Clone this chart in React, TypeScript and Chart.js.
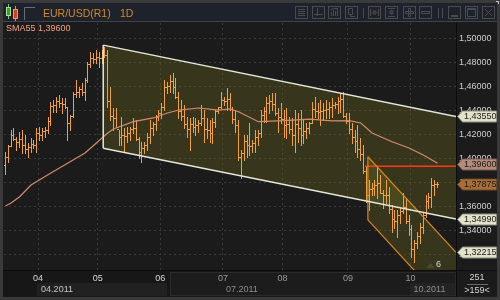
import React, { useEffect, useRef } from "react";
import { Chart, registerables } from "chart.js";

Chart.register(...registerables);

const FONT = '"Liberation Sans", Arial, Helvetica, sans-serif';

// ---------- categories / ticks ----------
const symbol = "EUR/USD(R1)";
const timeframe = "1D";
const monthLabels = ["04", "05", "06", "07", "08", "09", "10"];
const monthStartBars = [12, 33, 55, 77, 98, 121, 143];
const quarterLabels = ["04.2011", "07.2011", "10.2011"];
const quarterStartBars = [12, 77, 143];
const priceTicks = [1.32, 1.34, 1.36, 1.38, 1.4, 1.42, 1.44, 1.46, 1.48, 1.5];
const visibleBars = 159;
const totalBars = 251;
const waveLabel = "6";
const smaPeriod = 55;
const smaLast = 1.396;

// ---------- OHLC series (daily bars) ----------
const opens = [
  1.395, 1.402, 1.4105, 1.42, 1.417, 1.4145, 1.4165, 1.412, 1.408, 1.41,
  1.4125, 1.412, 1.422, 1.42, 1.423, 1.4245, 1.432, 1.444, 1.445, 1.448,
  1.447, 1.446, 1.443, 1.43, 1.436, 1.454, 1.456, 1.458, 1.456, 1.466,
  1.479, 1.484, 1.483, 1.485, 1.484, 1.488, 1.487, 1.448, 1.436, 1.434,
  1.425, 1.418, 1.42, 1.419, 1.422, 1.425, 1.426, 1.417, 1.406, 1.409,
  1.412, 1.418, 1.426, 1.429, 1.435, 1.438, 1.443, 1.46, 1.461, 1.465,
  1.46, 1.452, 1.44, 1.436, 1.429, 1.425, 1.429, 1.427, 1.428, 1.43,
  1.434, 1.425, 1.424, 1.422, 1.431, 1.44, 1.443, 1.449, 1.448, 1.45,
  1.442, 1.433, 1.428, 1.402, 1.405, 1.415, 1.412, 1.411, 1.413, 1.418,
  1.422, 1.437, 1.44, 1.447, 1.448, 1.446, 1.438, 1.435, 1.433, 1.428,
  1.429, 1.425, 1.42, 1.429, 1.426, 1.42, 1.423, 1.426, 1.43, 1.442,
  1.44, 1.439, 1.44, 1.441, 1.442, 1.443, 1.445, 1.446, 1.448, 1.45,
  1.436, 1.432, 1.425, 1.418, 1.415, 1.408, 1.404, 1.39, 1.37, 1.375,
  1.376, 1.378, 1.38, 1.372, 1.37, 1.37, 1.358, 1.35, 1.348, 1.353,
  1.357, 1.36, 1.348, 1.342, 1.325, 1.33, 1.336, 1.343, 1.353, 1.365,
  1.368, 1.378, 1.379,
];
const highs = [
  1.4061, 1.4117, 1.4242, 1.4256, 1.4186, 1.4228, 1.4242, 1.42, 1.4131, 1.4172,
  1.4158, 1.4256, 1.4269, 1.4256, 1.4269, 1.4353, 1.4478, 1.4492, 1.4519, 1.4533,
  1.4506, 1.4506, 1.4436, 1.4367, 1.4561, 1.4658, 1.4603, 1.4631, 1.4672, 1.4811,
  1.4894, 1.4881, 1.4908, 1.4894, 1.4908, 1.4936, 1.4908, 1.4603, 1.4422, 1.4422,
  1.4242, 1.4353, 1.4256, 1.4269, 1.4269, 1.4339, 1.4325, 1.4186, 1.4144, 1.4144,
  1.4214, 1.4325, 1.4311, 1.4367, 1.4408, 1.4464, 1.4658, 1.4644, 1.47, 1.4714,
  1.4672, 1.4561, 1.4492, 1.445, 1.4353, 1.4339, 1.4353, 1.4339, 1.4325, 1.445,
  1.4408, 1.4339, 1.4325, 1.4339, 1.4408, 1.4436, 1.4561, 1.4519, 1.4589, 1.4547,
  1.4436, 1.4408, 1.4325, 1.4075, 1.42, 1.42, 1.4297, 1.4158, 1.4242, 1.4242,
  1.4408, 1.4436, 1.4519, 1.4533, 1.4547, 1.4547, 1.4422, 1.4464, 1.4408, 1.4422,
  1.4353, 1.4339, 1.4408, 1.4381, 1.4408, 1.4325, 1.4297, 1.4311, 1.4478, 1.452,
  1.4464, 1.4492, 1.4464, 1.4492, 1.4478, 1.4506, 1.4478, 1.452, 1.4547, 1.4561,
  1.4381, 1.4381, 1.4297, 1.4242, 1.4283, 1.4172, 1.4117, 1.3936, 1.3825, 1.3797,
  1.3825, 1.3936, 1.3867, 1.3742, 1.3825, 1.3769, 1.3617, 1.3575, 1.3575, 1.3589,
  1.3714, 1.3672, 1.3533, 1.345, 1.3325, 1.3394, 1.3464, 1.3547, 1.37, 1.3714,
  1.3839, 1.3825, 1.3811,
];
const lows = [
  1.3875, 1.3978, 1.411, 1.4158, 1.4075, 1.4103, 1.4047, 1.4047, 1.4019, 1.4061,
  1.4089, 1.4061, 1.4158, 1.4158, 1.4186, 1.4214, 1.4283, 1.4394, 1.4394, 1.4436,
  1.4381, 1.4422, 1.4158, 1.4242, 1.4353, 1.4519, 1.4519, 1.4533, 1.4492, 1.4644,
  1.4769, 1.4797, 1.4797, 1.4769, 1.4797, 1.4853, 1.4436, 1.4325, 1.4242, 1.4269,
  1.4117, 1.4117, 1.4061, 1.4144, 1.4158, 1.4214, 1.4158, 1.4006, 1.3978, 1.4047,
  1.4075, 1.4131, 1.42, 1.4242, 1.4325, 1.4339, 1.4408, 1.4547, 1.4561, 1.4547,
  1.4506, 1.4339, 1.4325, 1.4256, 1.4186, 1.4075, 1.4228, 1.42, 1.4228, 1.4283,
  1.4144, 1.4172, 1.4144, 1.4131, 1.4269, 1.4381, 1.4422, 1.445, 1.4408, 1.4408,
  1.4297, 1.4228, 1.3992, 1.3839, 1.3992, 1.4019, 1.4033, 1.4061, 1.4061, 1.4117,
  1.4186, 1.4311, 1.4311, 1.4381, 1.4408, 1.4367, 1.4228, 1.4297, 1.4186, 1.4172,
  1.4214, 1.4117, 1.4061, 1.4144, 1.4117, 1.413, 1.4172, 1.4214, 1.43, 1.4353,
  1.4339, 1.4283, 1.4325, 1.4339, 1.4339, 1.4353, 1.4422, 1.4381, 1.4394, 1.4353,
  1.4297, 1.4214, 1.413, 1.4061, 1.4019, 1.3992, 1.388, 1.3644, 1.3575, 1.37,
  1.37, 1.3672, 1.3714, 1.3589, 1.3631, 1.3547, 1.3394, 1.3422, 1.3353, 1.3464,
  1.3547, 1.3464, 1.3367, 1.3186, 1.3144, 1.3256, 1.3297, 1.3381, 1.3519, 1.3589,
  1.3603, 1.37, 1.3769,
];
const closes = [
  1.402, 1.4105, 1.42, 1.417, 1.4145, 1.4165, 1.412, 1.408, 1.41, 1.4125,
  1.412, 1.422, 1.42, 1.423, 1.4245, 1.432, 1.444, 1.445, 1.448, 1.447,
  1.446, 1.443, 1.43, 1.436, 1.454, 1.456, 1.458, 1.456, 1.466, 1.479,
  1.484, 1.483, 1.485, 1.484, 1.488, 1.487, 1.448, 1.436, 1.434, 1.425,
  1.418, 1.42, 1.419, 1.422, 1.425, 1.426, 1.417, 1.406, 1.409, 1.412,
  1.418, 1.426, 1.429, 1.435, 1.438, 1.443, 1.46, 1.461, 1.465, 1.46,
  1.452, 1.44, 1.436, 1.429, 1.425, 1.429, 1.427, 1.428, 1.43, 1.434,
  1.425, 1.424, 1.422, 1.431, 1.44, 1.443, 1.449, 1.448, 1.45, 1.442,
  1.433, 1.428, 1.402, 1.405, 1.415, 1.412, 1.411, 1.413, 1.418, 1.422,
  1.437, 1.44, 1.447, 1.448, 1.446, 1.438, 1.435, 1.433, 1.428, 1.429,
  1.425, 1.42, 1.429, 1.426, 1.42, 1.423, 1.426, 1.43, 1.442, 1.44,
  1.439, 1.44, 1.441, 1.442, 1.443, 1.445, 1.446, 1.448, 1.45, 1.436,
  1.432, 1.425, 1.418, 1.415, 1.408, 1.404, 1.39, 1.37, 1.375, 1.376,
  1.378, 1.38, 1.372, 1.37, 1.37, 1.358, 1.35, 1.348, 1.353, 1.357,
  1.36, 1.348, 1.342, 1.325, 1.33, 1.336, 1.343, 1.353, 1.365, 1.368,
  1.378, 1.379, 1.37875,
];

// ---------- SMA55 (read points) ----------
const smaBars = [0, 2, 5, 9, 16, 22, 28, 32, 36, 38, 45, 52, 57, 61, 68, 75, 79, 82, 89, 98, 107, 115, 121, 125, 129, 136, 142, 147, 152];
const smaValues = [1.3608, 1.3633, 1.3686, 1.3783, 1.3883, 1.3967, 1.405, 1.4133, 1.4217, 1.425, 1.4311, 1.4342, 1.4383, 1.4408, 1.4425, 1.4408, 1.4417, 1.4394, 1.4311, 1.4319, 1.4333, 1.4317, 1.4319, 1.43, 1.4217, 1.4144, 1.4092, 1.4033, 1.3964];

// ---------- drawn objects ----------
const bigChannelBars = [34.4, 158.5];
const bigChannelUpper = [1.4949, 1.4355];
const bigChannelLower = [1.4089, 1.3499];
const smallChannelBars = [127.5, 158.5];
const smallChannelUpper = [1.4019, 1.32215];
const smallChannelLower = [1.3492, 1.2694];
const levelBars = [126.5, 158.5];
const levelValue = 1.394;
const tagValues = [1.4355, 1.396, 1.37875, 1.3499, 1.32215];
const tagKinds = ["line", "sma", "last", "line", "line"];

const fmt = (v: number) => v.toFixed(5).replace(".", ",");
const pts = (xs: number[], ys: number[]) => xs.map((x, k) => ({ x, y: ys[k] }));

const FILL = "rgba(110,105,35,0.35)";

function drawIcon(ctx: CanvasRenderingContext2D, x: number, kind: number) {
  const y = 6;
  ctx.strokeStyle = "#4b4b4b";
  ctx.lineWidth = 1;
  ctx.strokeRect(x + 0.5, y + 0.5, 12, 12);
  ctx.beginPath();
  switch (kind) {
    case 0:
      for (let k = 0; k < 4; k++) {
        ctx.moveTo(x + 3, y + 3.5 + k * 2);
        ctx.lineTo(x + 10, y + 3.5 + k * 2);
      }
      break;
    case 1:
      ctx.moveTo(x + 5.5, y + 2); ctx.lineTo(x + 5.5, y + 10);
      ctx.moveTo(x + 2, y + 8.5); ctx.lineTo(x + 11, y + 8.5);
      break;
    case 2:
      ctx.moveTo(x + 3.5, y + 10); ctx.lineTo(x + 3.5, y + 6);
      ctx.moveTo(x + 5.5, y + 10); ctx.lineTo(x + 5.5, y + 4);
      ctx.moveTo(x + 7.5, y + 10); ctx.lineTo(x + 7.5, y + 5);
      ctx.moveTo(x + 9.5, y + 10); ctx.lineTo(x + 9.5, y + 3);
      ctx.moveTo(x + 2, y + 4); ctx.lineTo(x + 6, y + 2.5); ctx.lineTo(x + 10, y + 2.5);
      break;
    case 3:
      ctx.rect(x + 3.5, y + 2.5, 4, 6);
      ctx.moveTo(x + 5.5, y + 8.5); ctx.lineTo(x + 5.5, y + 10.5); ctx.lineTo(x + 10, y + 10.5);
      break;
    case 4:
      ctx.moveTo(x + 2.5, y + 3); ctx.lineTo(x + 2.5, y + 10);
      ctx.moveTo(x + 10.5, y + 3); ctx.lineTo(x + 10.5, y + 10);
      ctx.moveTo(x + 4, y + 6.5); ctx.lineTo(x + 6, y + 4.5); ctx.lineTo(x + 6, y + 8.5); ctx.closePath();
      ctx.moveTo(x + 9, y + 6.5); ctx.lineTo(x + 7, y + 4.5); ctx.lineTo(x + 7, y + 8.5); ctx.closePath();
      break;
    case 5:
      ctx.moveTo(x + 3, y + 2.5); ctx.lineTo(x + 10, y + 2.5);
      ctx.moveTo(x + 3, y + 10.5); ctx.lineTo(x + 10, y + 10.5);
      ctx.moveTo(x + 6.5, y + 4); ctx.lineTo(x + 4.5, y + 6); ctx.lineTo(x + 8.5, y + 6); ctx.closePath();
      ctx.moveTo(x + 6.5, y + 9); ctx.lineTo(x + 4.5, y + 7); ctx.lineTo(x + 8.5, y + 7); ctx.closePath();
      break;
    case 6:
      ctx.rect(x + 5.5, y + 2.5, 2, 8);
      ctx.rect(x + 2.5, y + 5.5, 8, 2);
      break;
    case 7:
      ctx.rect(x + 2.5, y + 5.5, 8, 2);
      break;
    case 8:
      ctx.moveTo(x + 3, y + 9.5); ctx.lineTo(x + 10, y + 9.5);
      ctx.moveTo(x + 3, y + 10.5); ctx.lineTo(x + 10, y + 10.5);
      break;
    case 9:
      ctx.rect(x + 2.5, y + 2.5, 8, 8);
      ctx.moveTo(x + 2.5, y + 3.5); ctx.lineTo(x + 10.5, y + 3.5);
      break;
    case 10:
      ctx.moveTo(x + 3, y + 3); ctx.lineTo(x + 10, y + 10);
      ctx.moveTo(x + 10, y + 3); ctx.lineTo(x + 3, y + 10);
      break;
  }
  ctx.stroke();
}

const chromePlugin = {
  id: "chrome",
  beforeDraw(chart: any) {
    const { ctx } = chart;
    const xs = chart.scales.x;
    ctx.save();
    // outer frame
    ctx.fillStyle = "#3a3a3a";
    ctx.fillRect(0, 0, 500, 300);
    // title bar
    ctx.fillStyle = "#1d222d";
    ctx.fillRect(3, 3, 494, 19);
    ctx.fillStyle = "#3f434b";
    ctx.fillRect(3, 21, 494, 1);
    // plot + axis bg
    ctx.fillStyle = "#1b1b1b";
    ctx.fillRect(3, 22, 494, 275);
    // bottom axis panel
    ctx.fillStyle = "#171717";
    ctx.fillRect(3, 271, 453, 26);
    const q0 = xs.getPixelForValue(quarterStartBars[0] - 0.5);
    ctx.fillStyle = "#212121";
    ctx.fillRect(Math.round(q0) - 1, 283, 168 - Math.round(q0), 13);
    ctx.fillStyle = "#1c1c1c";
    ctx.fillRect(170, 272, 286, 24);
    ctx.strokeStyle = "#2a2a2a";
    ctx.strokeRect(170.5, 272.5, 285, 23);
    const q2 = xs.getPixelForValue(quarterStartBars[2] - 0.5);
    ctx.fillStyle = "#232323";
    ctx.fillRect(Math.round(q2) - 1, 283, 456 - Math.round(q2), 12);
    // separators
    ctx.fillStyle = "#0d0d0d";
    ctx.fillRect(456, 22, 1, 275);
    ctx.fillRect(3, 270, 494, 1);
    ctx.restore();
  },
  afterDraw(chart: any) {
    const { ctx } = chart;
    const xs = chart.scales.x;
    const ys = chart.scales.y;
    ctx.save();
    // candle icon
    ctx.fillStyle = "#7ad06a";
    ctx.fillRect(8, 4, 1, 15);
    ctx.fillStyle = "#3f9a3a";
    ctx.fillRect(6, 7, 5, 9);
    ctx.strokeStyle = "#a8e09a";
    ctx.strokeRect(6.5, 7.5, 4, 8);
    ctx.fillStyle = "#f08a3a";
    ctx.fillRect(15, 6, 1, 15);
    ctx.fillStyle = "#d9401a";
    ctx.fillRect(13, 9, 5, 10);
    ctx.strokeStyle = "#f49a50";
    ctx.strokeRect(13.5, 9.5, 4, 9);
    // bracket
    ctx.strokeStyle = "#6c6c6c";
    ctx.beginPath();
    ctx.moveTo(24.5, 20); ctx.lineTo(24.5, 7.5); ctx.lineTo(35, 7.5);
    ctx.stroke();
    // title
    ctx.font = `10.5px ${FONT}`;
    ctx.textBaseline = "middle";
    ctx.textAlign = "left";
    ctx.fillStyle = "#d68a1e";
    ctx.fillText(symbol, 43, 14);
    ctx.fillText(timeframe, 120, 14);
    // icons
    const iconX = [295, 312, 328, 345, 368, 385, 403, 419, 448, 465, 482];
    iconX.forEach((x, k) => drawIcon(ctx, x, k));
    ctx.fillStyle = "#4b4b4b";
    ctx.fillRect(363, 8, 1, 10);
    ctx.fillRect(438, 8, 1, 10);
    ctx.fillRect(442, 8, 1, 10);
    ctx.strokeStyle = "#cfcfcf";
    ctx.beginPath();
    ctx.moveTo(496, 1.5); ctx.lineTo(498.5, 1.5); ctx.lineTo(498.5, 4);
    ctx.stroke();
    // indicator caption
    ctx.font = `9px ${FONT}`;
    ctx.fillStyle = "#f3a088";
    ctx.fillText(`SMA${smaPeriod} ${fmt(smaLast)}`, 6, 29);
    // wave label
    const wx = xs.getPixelForValue(visibleBars - 7);
    ctx.fillStyle = "#4a4a32";
    ctx.beginPath();
    ctx.moveTo(wx - 11, 268); ctx.lineTo(wx - 7, 263); ctx.lineTo(wx - 3, 268); ctx.closePath();
    ctx.fill();
    ctx.fillStyle = "#d8d8d8";
    ctx.textAlign = "center";
    ctx.fillText(waveLabel, wx + 1, 265);
    // quarter labels
    ctx.textAlign = "left";
    quarterLabels.forEach((lab, k) => {
      const x = xs.getPixelForValue(quarterStartBars[k] - 0.5) + 3;
      ctx.fillStyle = k === 0 ? "#c4c4c4" : "#8e8e8e";
      ctx.fillText(lab, x, 290);
    });
    // tags
    tagValues.forEach((v, k) => {
      const y = Math.round(ys.getPixelForValue(v)) + 0.5;
      const kind = tagKinds[k];
      const fill = kind === "sma" ? "#b48a78" : kind === "last" ? "#a86e36" : "#e2e1ca";
      const stroke = kind === "sma" ? "#7a5a4c" : kind === "last" ? "#6e4a24" : "#8f8f80";
      ctx.beginPath();
      ctx.moveTo(457.5, y);
      ctx.lineTo(462.5, y - 5.5);
      ctx.lineTo(496.5, y - 5.5);
      ctx.lineTo(496.5, y + 5.5);
      ctx.lineTo(462.5, y + 5.5);
      ctx.closePath();
      ctx.fillStyle = fill;
      ctx.fill();
      ctx.strokeStyle = stroke;
      ctx.stroke();
      ctx.fillStyle = "#1b1b1b";
      ctx.textAlign = "left";
      ctx.fillText(fmt(v), 464, y + 0.5);
    });
    // corner info
    ctx.textAlign = "center";
    ctx.fillStyle = "#d4d4d4";
    ctx.fillText(String(totalBars), 477, 277.5);
    ctx.fillStyle = "#6a6a6a";
    ctx.fillRect(467, 284, 21, 1);
    ctx.fillStyle = "#d4d4d4";
    ctx.fillText(`>${visibleBars}<`, 477, 290.5);
    ctx.restore();
  },
};

const ohlcPlugin = {
  id: "ohlc",
  afterDatasetDraw(chart: any, args: any) {
    if (args.index !== 0) return;
    const { ctx, chartArea } = chart;
    const xs = chart.scales.x;
    const ys = chart.scales.y;
    ctx.save();
    ctx.beginPath();
    ctx.rect(chartArea.left, chartArea.top, chartArea.right - chartArea.left, chartArea.bottom - chartArea.top);
    ctx.clip();
    ctx.fillStyle = "#f3a03c";
    for (let i = 0; i < highs.length; i++) {
      const px = Math.floor(xs.getPixelForValue(i));
      const yh = Math.round(ys.getPixelForValue(highs[i]));
      const yl = Math.round(ys.getPixelForValue(lows[i]));
      const yo = Math.round(ys.getPixelForValue(opens[i]));
      const yc = Math.round(ys.getPixelForValue(closes[i]));
      ctx.fillRect(px, yh, 1, Math.max(1, yl - yh + 1));
      ctx.fillRect(px - 1, yo, 1, 1);
      ctx.fillRect(px + 1, yc, 1, 1);
    }
    ctx.restore();
  },
};

export default function App() {
  const ref = useRef<HTMLCanvasElement>(null);
  useEffect(() => {
    document.body.style.margin = "0";
    Chart.defaults.font.family = FONT;
    const lineDs = (label: string, data: any[], color: string, width: number, order: number, extra: any = {}) => ({
      label,
      data,
      borderColor: color,
      borderWidth: width,
      pointRadius: 0,
      tension: 0,
      fill: false,
      order,
      ...extra,
    });
    const chart = new Chart(ref.current as HTMLCanvasElement, {
      type: "line",
      data: {
        datasets: [
          lineDs("bigFillTop", pts(bigChannelBars, bigChannelUpper), "rgba(0,0,0,0)", 0, 10, { fill: "+1", backgroundColor: FILL }),
          lineDs("bigFillBottom", pts(bigChannelBars, bigChannelLower), "rgba(0,0,0,0)", 0, 10),
          lineDs("smallFillTop", pts(smallChannelBars, smallChannelUpper), "rgba(0,0,0,0)", 0, 10, { fill: "+1", backgroundColor: FILL }),
          lineDs("smallFillBottom", pts(smallChannelBars, smallChannelLower), "rgba(0,0,0,0)", 0, 10),
          lineDs("SMA55", pts(smaBars, smaValues), "#d4896a", 1.2, 5),
          lineDs("level", pts(levelBars, [levelValue, levelValue]), "#ff3a12", 1.5, 4),
          lineDs("bigUpper", pts(bigChannelBars, bigChannelUpper), "#e6e6da", 1.5, 3),
          lineDs("bigLower", pts(bigChannelBars, bigChannelLower), "#e6e6da", 1.5, 3),
          lineDs("bigLeft", pts([bigChannelBars[0], bigChannelBars[0]], [bigChannelUpper[0], bigChannelLower[0]]), "#e6e6da", 1.5, 3),
          lineDs("smallUpper", pts(smallChannelBars, smallChannelUpper), "#d8861c", 1.2, 3),
          lineDs("smallLower", pts(smallChannelBars, smallChannelLower), "#d8861c", 1.2, 3),
          lineDs("smallLeft", pts([smallChannelBars[0], smallChannelBars[0]], [smallChannelUpper[0], smallChannelLower[0]]), "#d8861c", 1.2, 3),
        ],
      },
      options: {
        responsive: false,
        devicePixelRatio: 1,
        animation: false,
        events: [],
        layout: { padding: { left: 4, top: 23, right: 3, bottom: 3 } },
        plugins: { legend: { display: false }, tooltip: { enabled: false } },
        scales: {
          x: {
            type: "linear",
            position: "bottom",
            min: -0.5,
            max: visibleBars - 0.5,
            afterBuildTicks: (s: any) => {
              s.ticks = monthStartBars.map((b) => ({ value: b - 0.5 }));
            },
            afterFit: (s: any) => {
              s.height = 27;
            },
            ticks: {
              autoSkip: false,
              maxRotation: 0,
              minRotation: 0,
              padding: 3,
              font: { size: 9, family: FONT },
              color: (c: any) => (c.index < 3 ? "#d6d6d6" : "#9a9a9a"),
              callback: (_v: any, i: number) => monthLabels[i],
            },
            grid: { color: "#3a3a3a", drawTicks: false, lineWidth: 1 },
            border: { display: false, dash: [2, 3] },
          },
          y: {
            type: "linear",
            position: "right",
            min: 1.3075,
            max: 1.513333,
            afterBuildTicks: (s: any) => {
              s.ticks = priceTicks.map((v) => ({ value: v }));
            },
            afterFit: (s: any) => {
              s.width = 41;
            },
            ticks: {
              padding: 3,
              font: { size: 9, family: FONT },
              color: "#cfcfcf",
              callback: (v: any) => fmt(Number(v)),
            },
            grid: { color: "#3a3a3a", drawTicks: false, lineWidth: 1 },
            border: { display: false, dash: [2, 3] },
          },
        },
      } as any,
      plugins: [chromePlugin, ohlcPlugin],
    });
    return () => chart.destroy();
  }, []);
  return (
    <div style={{ position: "fixed", left: 0, top: 0, width: 500, height: 300, background: "#3a3a3a" }}>
      <canvas ref={ref} width={500} height={300} style={{ display: "block", width: 500, height: 300 }} />
    </div>
  );
}
